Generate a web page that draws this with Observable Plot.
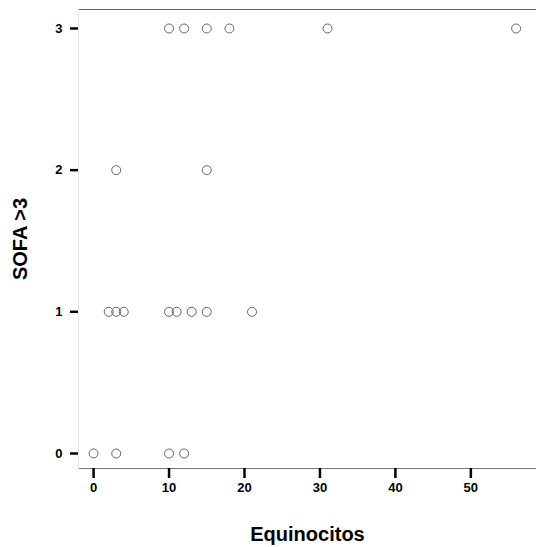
<!DOCTYPE html>
<html>
<head>
<meta charset="utf-8">
<script src="https://cdn.jsdelivr.net/npm/d3@7"></script>
<script src="https://cdn.jsdelivr.net/npm/@observablehq/plot@0.6"></script>
<style>
  html, body { margin: 0; padding: 0; background: #fff; }
  svg { display: block; }
</style>
</head>
<body>
<div id="chart"></div>
<script>
// Equinocitos (x) per SOFA >3 group (y)
const sofa0 = [0, 3, 10, 12];
const sofa1 = [2, 3, 4, 10, 11, 13, 15, 21];
const sofa2 = [3, 15];
const sofa3 = [10, 12, 15, 18, 31, 56];
const xTicks = [0, 10, 20, 30, 40, 50];
const yTicks = [0, 1, 2, 3];

const data = [
  ...sofa0.map(x => ({x, y: 0})),
  ...sofa1.map(x => ({x, y: 1})),
  ...sofa2.map(x => ({x, y: 2})),
  ...sofa3.map(x => ({x, y: 3}))
];

const font = "Liberation Sans, Arial, sans-serif";

const chart = Plot.plot({
  width: 536,
  height: 547,
  marginLeft: 78,
  marginRight: 0,
  marginTop: 9,
  marginBottom: 79,
  style: {fontFamily: font, background: "#fff", color: "#000"},
  x: {domain: [-2, 58.7]},
  y: {domain: [-0.106, 3.134]},
  marks: [
    Plot.frame({anchor: "top", stroke: "#666", strokeWidth: 1.2}),
    Plot.frame({anchor: "bottom", stroke: "#777", strokeWidth: 1}),
    Plot.frame({anchor: "left", stroke: "#e8e8e8", strokeWidth: 1}),
    Plot.dot(data, {x: "x", y: "y", r: 4.5, stroke: "#666", strokeWidth: 1, fill: "none"}),
    Plot.axisX({
      ticks: xTicks, tickFormat: "d", tickSize: 10, tickPadding: 4, strokeWidth: 2.5, stroke: "#000",
      fontSize: 13, fontWeight: "bold",
      label: "Equinocitos", labelArrow: "none", labelAnchor: "center", labelOffset: 72
    }),
    Plot.axisY({
      ticks: yTicks, tickFormat: "d", tickSize: 8, tickPadding: 8, strokeWidth: 2.5, stroke: "#000",
      fontSize: 13, fontWeight: "bold",
      label: "SOFA >3", labelArrow: "none", labelAnchor: "center", labelOffset: 66
    })
  ]
});

// style axis labels, strip any arrows
d3.select(chart).selectAll("[aria-label='x-axis label'] text, [aria-label='y-axis label'] text")
  .style("font-size", "20px").style("font-weight", "bold")
  .each(function() { this.textContent = this.textContent.replace(/\s*[↑→←↓]\s*/g, ""); });

document.getElementById("chart").append(chart);
</script>
</body>
</html>
